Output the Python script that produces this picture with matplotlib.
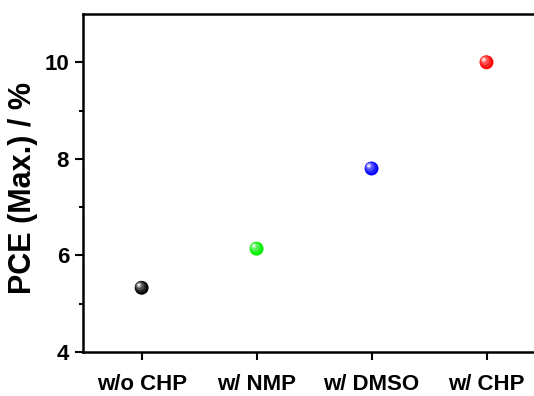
import numpy as np
import matplotlib
matplotlib.use("Agg")
import matplotlib.pyplot as plt
import matplotlib.transforms as mtransforms
from matplotlib.colors import to_rgb

plt.rcParams['font.family'] = ['Liberation Sans', 'DejaVu Sans']
plt.rcParams['font.weight'] = 'bold'

# data
categories = ["w/o CHP", "w/ NMP", "w/ DMSO", "w/ CHP"]
pce_max = [5.33, 6.14, 7.80, 10.0]
colors = ["#000000", "#00ee00", "#0000ff", "#ff0000"]

fig = plt.figure(figsize=(5.34, 3.96), dpi=100)
# axes runs past the right edge like the cropped original
ax = fig.add_axes([83 / 534, 44 / 396, 461 / 534, 338 / 396])

x = np.arange(len(categories))


def shade(c, t):
    r, g, b = to_rgb(c)
    return (r + (1 - r) * t, g + (1 - g) * t, b + (1 - b) * t)


# shaded balls: base disc, then lighter discs shifted up-left
layers = [(100, 0.0, 0.0, 0.0), (70, 0.12, -0.6, 0.6), (40, 0.3, -1.2, 1.2),
          (14, 0.6, -1.8, 1.8), (4, 0.9, -2.0, 2.0)]
for s, t, dx, dy in layers:
    off = mtransforms.ScaledTranslation(dx / 72, dy / 72, fig.dpi_scale_trans)
    ax.scatter(x, pce_max, s=s, c=[shade(c, t) for c in colors],
               edgecolors='none', transform=ax.transData + off, zorder=3,
               clip_on=False)

ax.set_xlim(-0.51, 3.5)
ax.set_ylim(4, 11)
ax.set_xticks(x)
ax.set_xticklabels(categories)
ax.set_yticks([4, 6, 8, 10])
ax.set_yticks([5, 7, 9], minor=True)

for side in ['left', 'bottom', 'top']:
    ax.spines[side].set_linewidth(1.8)
ax.spines['right'].set_visible(False)

ax.tick_params(axis='both', which='major', direction='out', length=6,
               width=1.5, labelsize=16, pad=4)
ax.tick_params(axis='y', which='minor', direction='out', length=3, width=1.5)
ax.tick_params(axis='x', which='major', pad=10)

ax.set_ylabel("PCE (Max.) / %", fontsize=22, fontweight='bold')
ax.yaxis.set_label_coords(-0.098, 0.485)

fig.savefig("out.png", dpi=100)
